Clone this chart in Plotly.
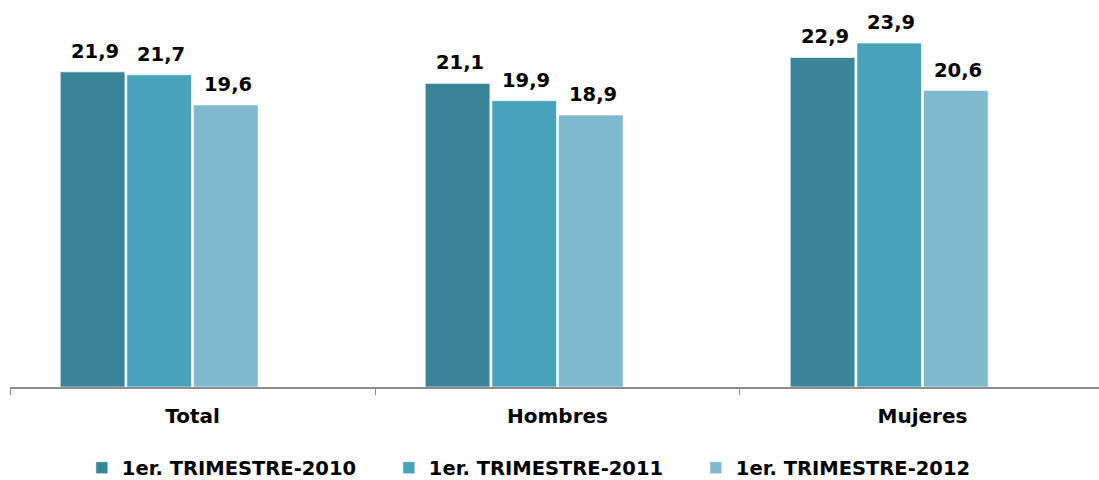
import plotly.graph_objects as go

categories = ["Total", "Hombres", "Mujeres"]
series_names = ["1er. TRIMESTRE-2010", "1er. TRIMESTRE-2011", "1er. TRIMESTRE-2012"]
values_2010 = [21.9, 21.1, 22.9]
values_2011 = [21.7, 19.9, 23.9]
values_2012 = [19.6, 18.9, 20.6]
colors = ["#3a8497", "#48a2b9", "#7fb9cd"]

series_values = [values_2010, values_2011, values_2012]
BARGAP = 0.27
N_SLOTS = 4  # the original reserves a fourth, empty slot in each group

def fmt(v):
    return f"{v:.1f}".replace(".", ",")

fig = go.Figure()
for name, vals, col in zip(series_names, series_values, colors):
    fig.add_trace(go.Bar(
        x=categories, y=vals, name=name,
        marker=dict(color=col, line=dict(color="rgba(255,255,255,0.6)", width=1)),
        hoverinfo="x+y",
    ))
fig.add_trace(go.Bar(x=categories, y=[None, None, None], showlegend=False,
                     hoverinfo="skip"))

# value labels, placed over each bar through the axis scales
slot = (1 - BARGAP) / N_SLOTS
for j, vals in enumerate(series_values):
    for i, v in enumerate(vals):
        fig.add_annotation(
            x=i + (j - (N_SLOTS - 1) / 2) * slot, y=v, xref="x", yref="y",
            text=fmt(v), showarrow=False, yanchor="bottom", yshift=7, xshift=2,
            font=dict(family="DejaVu Sans", size=19.5, color="black", weight="bold"),
        )

fig.update_layout(
    width=1099, height=480,
    margin=dict(l=10, r=0, t=10, b=93, autoexpand=False),
    paper_bgcolor="white", plot_bgcolor="white",
    barmode="group", bargap=BARGAP, bargroupgap=0.03,
    font=dict(family="DejaVu Sans", color="black", weight="bold"),
    showlegend=True,
    legend=dict(orientation="h", xref="container", x=0.4935, xanchor="center",
                yref="container", y=0.025, yanchor="middle",
                font=dict(family="DejaVu Sans", size=19.5, color="black", weight="bold"),
                entrywidth=262, entrywidthmode="pixels", itemwidth=30,
                traceorder="normal"),
)
fig.update_xaxes(
    range=[-0.5, 2.4836], showline=True, linecolor="#8c8c8c", linewidth=1.5,
    ticks="outside", tickson="boundaries", ticklen=6, tickcolor="#8c8c8c",
    tickfont=dict(family="DejaVu Sans", size=20, color="black", weight="bold"),
    ticklabelstandoff=10, automargin=False,
    showgrid=False, zeroline=False,
)
fig.update_yaxes(range=[0, 26.2], visible=False, showgrid=False, zeroline=False,
                 automargin=False)

fig.write_html("out.html", config={"displayModeBar": False},
               post_script="document.body.style.margin='0';")
